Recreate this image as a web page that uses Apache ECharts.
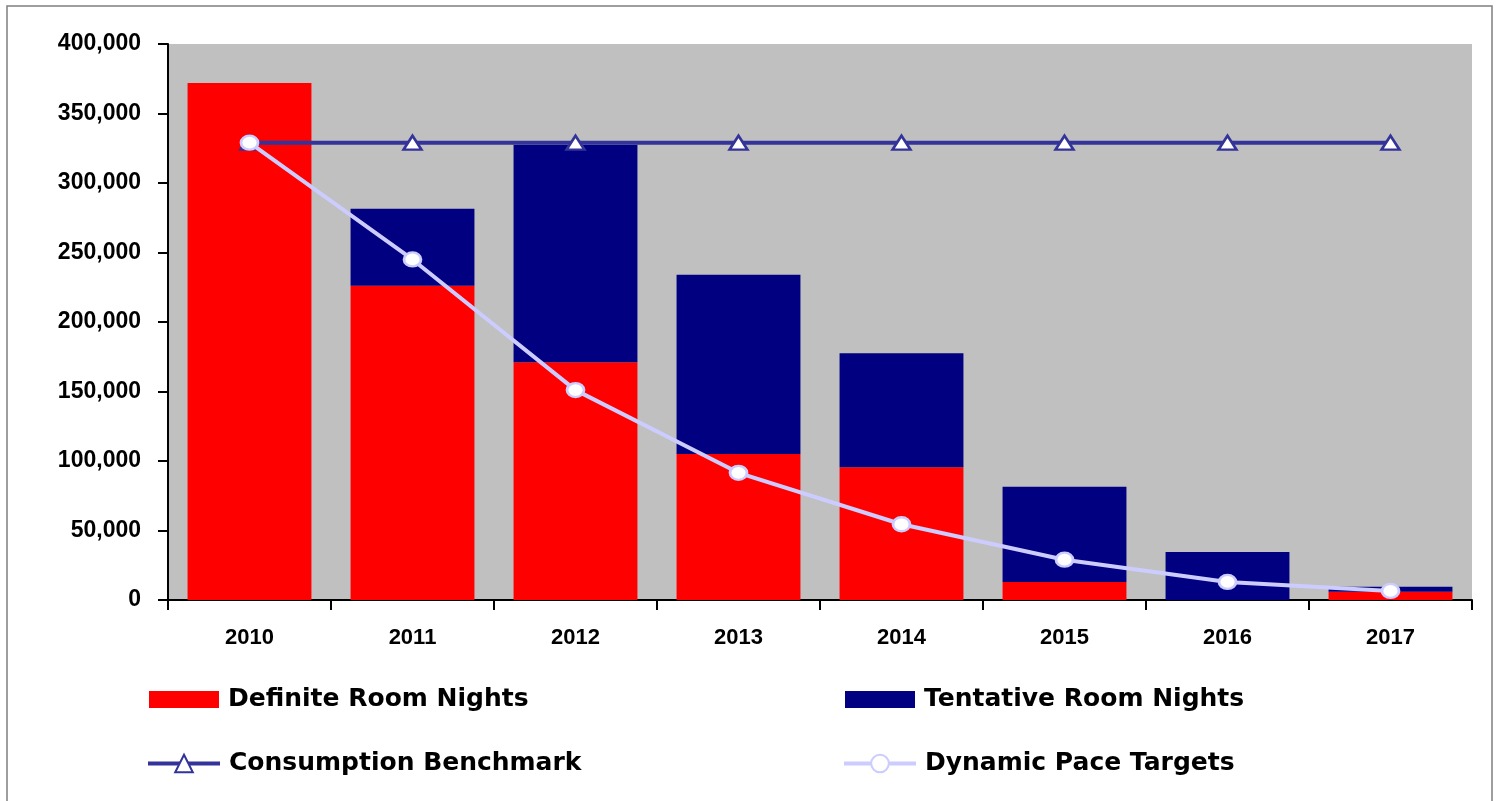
<!DOCTYPE html>
<html>
<head>
<meta charset="utf-8">
<script src="https://cdn.jsdelivr.net/npm/echarts@6/dist/echarts.min.js"></script>
<style>html,body{margin:0;padding:0;background:#fff;}#c{width:1499px;height:801px;}</style>
</head>
<body>
<div id="c"></div>
<script>
const years = ['2010','2011','2012','2013','2014','2015','2016','2017'];
const definite = [372000, 226000, 171000, 105000, 95500, 13000, 0, 6000];
const tentative = [0, 55500, 156500, 129000, 82000, 68500, 34500, 3500];
const benchmark = [329000, 329000, 329000, 329000, 329000, 329000, 329000, 329000];
const paceTargets = [329000, 245000, 151000, 91500, 54500, 29000, 13000, 6500];
const yTicks = [0, 50000, 100000, 150000, 200000, 250000, 300000, 350000, 400000];

const FONT = '"Liberation Sans", Arial, sans-serif';
const LFONT = '"DejaVu Sans", "Liberation Sans", Arial, sans-serif';
const chart = echarts.init(document.getElementById('c'), null, {renderer: 'canvas'});
const legendText = {fontFamily: LFONT, fontWeight: 'bold', fontSize: 25, color: '#000', padding: [0,0,0,4]};
function lgBar(name, left, top) {
  return {data: [{name: name, icon: 'rect'}], left: left, top: top, padding: 0, itemWidth: 70, itemHeight: 17,
    textStyle: legendText, selectedMode: false};
}
function lgLine(name, left, top) {
  return {data: [name], left: left, top: top, padding: 0, itemWidth: 72, itemHeight: 22,
    lineStyle: {width: 4}, textStyle: legendText, selectedMode: false};
}
chart.setOption({
  animation: false,
  backgroundColor: '#fff',
  graphic: [{type: 'rect', shape: {x: 7, y: 6, width: 1485, height: 805}, style: {fill: 'none', stroke: '#7f7f7f', lineWidth: 1.5}, silent: true}],
  grid: {left: 168, right: 27, top: 44, bottom: 201, show: true, backgroundColor: '#c0c0c0', borderWidth: 0},
  legend: [
    lgBar('Definite Room Nights', 149, 687),
    lgBar('Tentative Room Nights', 845, 687),
    lgLine('Consumption Benchmark', 146, 751),
    lgLine('Dynamic Pace Targets', 842, 751)
  ],
  xAxis: {
    type: 'category', data: years,
    axisLine: {lineStyle: {color: '#000', width: 2}},
    axisTick: {show: true, length: 10, lineStyle: {color: '#000', width: 2}},
    axisLabel: {fontFamily: FONT, fontWeight: 'bold', fontSize: 22, color: '#000', margin: 27}
  },
  yAxis: {
    type: 'value', min: 0, max: 400000, interval: 50000,
    splitLine: {show: false},
    axisLine: {show: true, lineStyle: {color: '#000', width: 2}},
    axisTick: {show: true, length: 10, lineStyle: {color: '#000', width: 2}},
    axisLabel: {fontFamily: FONT, fontWeight: 'bold', fontSize: 23, color: '#000', margin: 27,
      formatter: v => yTicks.includes(v) ? v.toLocaleString('en-US') : ''}
  },
  series: [
    {name: 'Definite Room Nights', type: 'bar', stack: 'rn', data: definite, barWidth: '76%',
      itemStyle: {color: '#ff0000'}},
    {name: 'Tentative Room Nights', type: 'bar', stack: 'rn', data: tentative, barWidth: '76%',
      itemStyle: {color: '#000080'}},
    {name: 'Consumption Benchmark', type: 'line', data: benchmark, symbol: 'triangle', symbolSize: [18, 14],
      lineStyle: {color: '#333399', width: 4}, itemStyle: {color: '#ffffff', borderColor: '#333399', borderWidth: 2.5}, z: 3},
    {name: 'Dynamic Pace Targets', type: 'line', data: paceTargets, symbol: 'circle', symbolSize: [17, 14],
      lineStyle: {color: '#ccccff', width: 4}, itemStyle: {color: '#ffffff', borderColor: '#ccccff', borderWidth: 2.5}, z: 4}
  ]
});
</script>
</body>
</html>
